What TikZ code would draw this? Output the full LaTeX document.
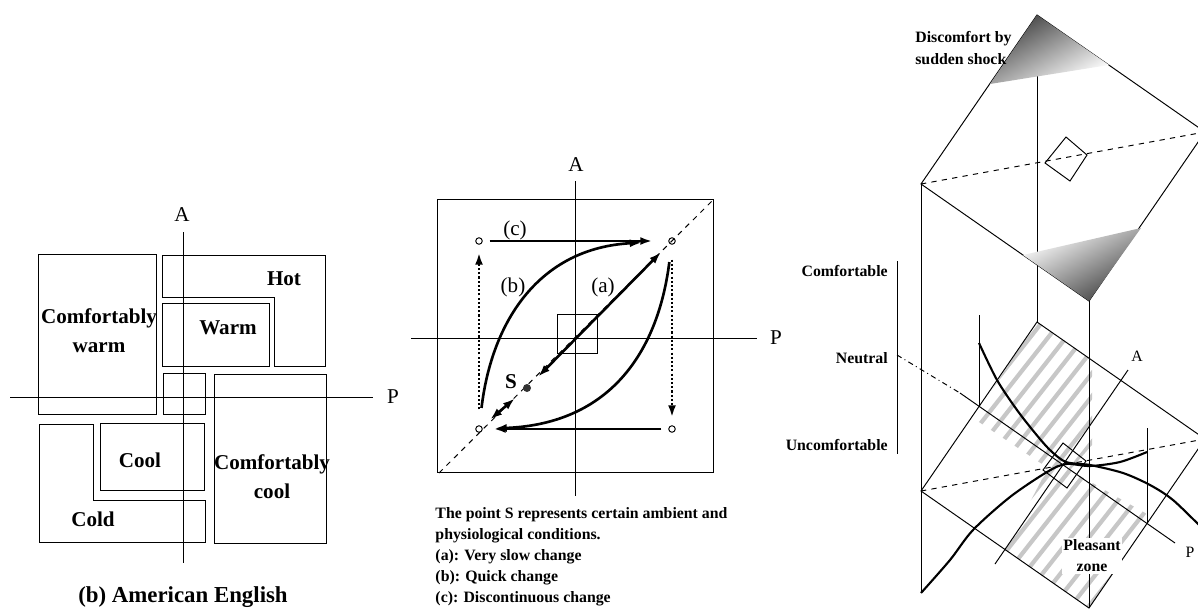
\documentclass[tikz,border=0pt]{standalone}
\usepackage{fontspec}
\setmainfont{Liberation Serif}
\usetikzlibrary{arrows,arrows.meta,positioning,calc,shapes}

\begin{document}
\begin{tikzpicture}[x=0.02cm, y=-0.02cm, line width=0.55pt,
    zonelbl/.style={font=\fontsize{12}{16.5}\selectfont\bfseries, align=center},
    axlbl/.style={font=\fontsize{12}{14}\selectfont},
    smlbl/.style={font=\fontsize{9}{12}\selectfont\bfseries},
    smax/.style={font=\fontsize{9}{11}\selectfont},
    thk/.style={line width=1.5pt},
    tip/.style={-{Latex[length=2.4mm, width=1.6mm]}},
    tips/.style={{Latex[length=2.4mm, width=1.6mm]}-{Latex[length=2.4mm, width=1.6mm]}},
    dots/.style={dash pattern=on 1.2pt off 1.2pt},
    ring/.style={circle, draw, inner sep=0pt, minimum size=1.3mm},
    stripe/.style={line width=2.4pt, draw=black!22}]
\useasboundingbox (0,0) rectangle (1198,609);

% American English
\draw (38,254) rectangle (156,414);
\draw (162,255) -- (325,255) -- (325,366) -- (274,366) -- (274,297) -- (162,297) -- cycle;
\draw (162,303) rectangle (269,366);
\draw (163,373) rectangle (205,414);
\draw (214,374) rectangle (326,543);
\draw (100,423) rectangle (204,490);
\draw (39,424) -- (93,424) -- (93,500) -- (205,500) -- (205,542) -- (39,542) -- cycle;
\draw (183,232) -- (183,563);
\draw (10,397) -- (373,397);
\node[axlbl] (aL) at (182,215) {A};
\node[axlbl] (pL) at (393,397) {P};
\node[zonelbl] (hot) at (284,279) {Hot};
\node[zonelbl] (cwarm) at (99,331) {Comfortably\\warm};
\node[zonelbl] (warm) at (228,328) {Warm};
\node[zonelbl] (cool) at (140,460) {Cool};
\node[zonelbl] (ccool) at (272,477) {Comfortably\\cool};
\node[zonelbl] (cold) at (93,519) {Cold};
\node[font=\fontsize{13}{15}\selectfont\bfseries] (capB) at (183,597) {(b) American English};

% Changes of S
\draw (437,199) rectangle (713,472);
\draw (557,314) rectangle (597,353);
\draw (575,181) -- (575,496);
\draw (411,338) -- (757,338);
\draw[dashed] (439,473) -- (713,200);
\node[axlbl] (aM) at (576,165) {A};
\node[axlbl] (pM) at (776,338) {P};
\node[ring] (tl) at (479,241) {};
\node[ring] (tr) at (672,241) {};
\node[ring] (bl) at (479,429) {};
\node[ring] (br) at (672,429) {};
\node[circle, fill=black!80, inner sep=0pt, minimum size=1.6mm] (s) at (527,388) {};
\node[font=\fontsize{12}{14}\selectfont\bfseries] (slbl) at (511,382) {S};
\draw[thk, tip, shorten <=1.4mm, shorten >=3.2mm] (tl) -- (tr);
\draw[thk, tip, shorten <=1.4mm, shorten >=2.2mm] (br) -- (bl);
\draw[thk, dots, tip, shorten <=3.2mm, shorten >=1.6mm] (bl) -- (tl);
\draw[thk, dots, tip, shorten <=3mm, shorten >=1.6mm] (tr) -- (br);
\draw[thk, tips, shorten <=2.3mm, shorten >=2.4mm] (s) -- (tr);
\draw[thk, tips, shorten <=2.2mm, shorten >=2.3mm] (bl) -- (s);
\draw[thk, tip, shorten <=3.5mm, shorten >=5.3mm] (bl) .. controls (492,320) and (540,248) .. (tr);
\draw[thk, tip, shorten <=3.5mm, shorten >=2.4mm] (tr) .. controls (658,352) and (610,424) .. (bl);
\node[axlbl] (clbl) at (515,230) {(c)};
\node[axlbl] (blbl) at (513,287) {(b)};
\node[axlbl] (albl) at (603,287) {(a)};
\node[smlbl, align=left, anchor=north west, inner sep=0pt] (note) at (435,507)
  {The point S represents certain ambient and\\physiological conditions.\\(a): Very slow change\\(b): Quick change\\(c): Discontinuous change};

% Comfort prism
\coordinate (l1) at (921,184);
\coordinate (t1) at (1037,15);
\coordinate (r1) at (1205,132);
\coordinate (b1) at (1089,301);
\coordinate (l2) at (921,491);
\coordinate (t2) at (1037,322);
\coordinate (r2) at (1205,439);
\coordinate (b2) at (1089,608);
\coordinate (c2) at (1063,465);
\coordinate (ml) at (979,406);
\coordinate (mr) at (1147,523);
\coordinate (neutral) at (897,355);

% hatched pleasant zone
\begin{scope}
  \clip (973,418) -- (t2) -- (1092,360) -- (1092,445) -- (1063,478) -- cycle
        (1052,460) -- (1147,514) -- (mr) -- (b2) -- (1005,550) -- cycle;
  \foreach \x in {700,718,...,1200}
    \draw[stripe] (\x,620) -- ++(250,-318);
\end{scope}

% verticals
\draw (l1) -- (921,593);
\draw (t1) -- (t2);
\draw (b1) -- (b2);
\draw (ml) -- (979,315);
\draw (mr) -- (1147,428);

% upper diamond
\draw (l1) -- (t1) -- (r1) -- (b1) -- cycle;
\draw[dashed] (l1) -- (r1);
\draw (1066,137) -- (1087,155) -- (1070,181) -- (1045,163) -- cycle;
\shade[top color=black!75, bottom color=white, shading angle=29] (t1) -- (990,84) -- (1109,65) -- cycle;
\shade[top color=white, bottom color=black!75, shading angle=29] (b1) -- (1023,255) -- (1141,228) -- cycle;
\node[smlbl, align=left, anchor=west] (shock) at (909,48) {Discomfort by\\sudden shock};

% lower diamond
\draw (l2) -- (t2) -- (r2) -- (b2) -- cycle;
\draw[dashed] (l2) -- (r2);
\draw (1063,443) -- (1086,461) -- (1067,488) -- (1043,470) -- cycle;
\draw[dash dot] (neutral) -- (960,393);
\draw (960,393) -- (1175,543);
\draw (995,564) -- (1128,370);
\node[smax] (aR) at (1137,356) {A};
\node[smax] (pR) at (1190,552) {P};
\draw[line width=1.2pt] plot[smooth] coordinates {(979,343) (997,380) (1017,410) (1035,433) (1050,450) (1066,462) (1090,465) (1123,473) (1150,485) (1173,500) (1202,528)};
\draw[line width=1.2pt] plot[smooth] coordinates {(921,593) (950,560) (973,530) (1010,497) (1047,472) (1066,464) (1090,466) (1120,462) (1147,452)};
\node[smlbl, align=center, fill=white, inner sep=1pt] (zone) at (1092,556) {Pleasant\\zone};

% comfort scale
\draw (897,261) -- (897,454);
\node[smlbl, anchor=east] (comf) at (894,271) {Comfortable};
\node[smlbl, anchor=east] (neut) at (894,358) {Neutral};
\node[smlbl, anchor=east] (uncomf) at (894,445) {Uncomfortable};
\end{tikzpicture}
\end{document}
